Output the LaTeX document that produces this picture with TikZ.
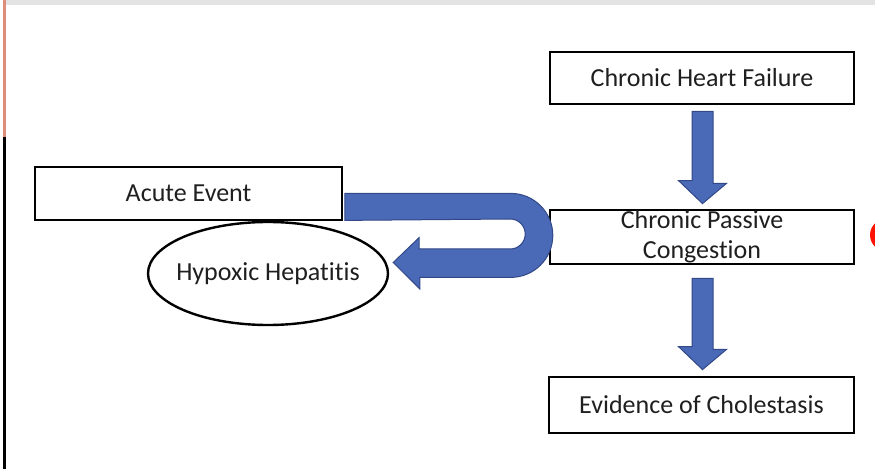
\documentclass[tikz,border=0pt]{standalone}
\usepackage{fontspec}
\setmainfont[Ligatures={NoCommon}]{Carlito}
\usetikzlibrary{calc,shapes.geometric}
\definecolor{arrowblue}{RGB}{74,106,184}
\definecolor{arrowedge}{RGB}{50,72,135}
\definecolor{edgered}{RGB}{222,140,124}
\begin{document}
\begin{tikzpicture}[x=1pt,y=1pt]
\tikzstyle{every node}=[font=\fontsize{26}{30}\selectfont, text=black!88]
\tikzstyle{box}=[draw, line width=2.8pt, rectangle, fill=white, minimum width=304pt, inner sep=0pt]
\tikzstyle{blob}=[draw, line width=2.4pt, ellipse, fill=white, minimum width=240pt, minimum height=103pt, inner xsep=-8pt, inner ysep=0pt]
\tikzstyle{blockarrow}=[fill=arrowblue, draw=arrowedge, line width=1pt, line join=miter]
\useasboundingbox (0,0) rectangle (875,469);
\clip (0,0) rectangle (875,469);
% frame bits
\fill[gray!22] (6,464) rectangle (875,469);
\draw[line width=2.5pt] (4.5,0) -- (4.5,332);
\draw[edgered, line width=3pt] (4.5,332) -- (4.5,469);
\fill[red!85!orange] (886,234) circle (16);
% boxes
\node[box, minimum height=52pt] (chf) at (702,391) {Chronic Heart Failure};
\node[box, minimum height=54pt, align=center] (cpc) at (702,232) {Chronic Passive\\Congestion};
\node[box, minimum width=305pt, minimum height=56pt] (eoc) at (701.5,64) {Evidence of Cholestasis};
\node[box, minimum width=307pt, minimum height=53pt] (ae) at (188.5,275.5) {Acute Event};
\node[blob] (hh) at (268,195.5) {Hypoxic Hepatitis};
% block arrows
\filldraw[blockarrow] ($(chf.south)+(-10,-6)$) -- ++(21,0) -- ++(0,-72) -- ++(13.5,0)
  -- ($(cpc.north)+(0.5,5)$) -- ++(-24,23) -- ++(13.5,0) -- cycle;
\filldraw[blockarrow] ($(cpc.south)+(-10,-13)$) -- ++(21,0) -- ++(0,-71) -- ++(13.5,0)
  -- ($(eoc.north)+(1,6)$) -- ++(-24,23) -- ++(13.5,0) -- cycle;
\filldraw[blockarrow] ($(ae.south east)+(1.4,28)$) -- ++(166,0)
  arc[start angle=90, end angle=-90, radius=42] -- ++(-91,0) -- ++(0,-11.5)
  -- ($(hh.east)+(4,11)$) -- ++(26,25) -- ++(0,-11.5) -- ++(91,0)
  arc[start angle=-90, end angle=90, radius=15] -- ($(ae.south east)+(1.4,1)$) -- cycle;
\end{tikzpicture}
\end{document}
